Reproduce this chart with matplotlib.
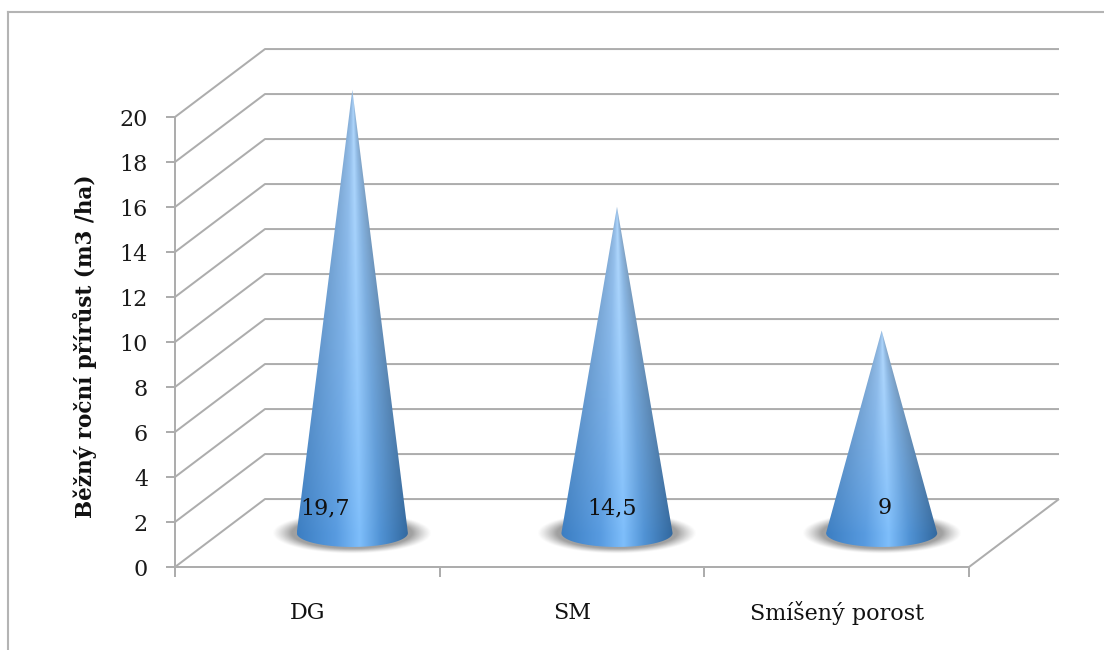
import numpy as np
import matplotlib
matplotlib.use("Agg")
import matplotlib.pyplot as plt
from matplotlib.patches import Polygon
from matplotlib.lines import Line2D

# Data
categories = ["DG", "SM", "Smíšený porost"]
values = [19.7, 14.5, 9]
value_labels = ["19,7", "14,5", "9"]
label_x = [0.567, 1.65, 2.68]
y_ticks = list(range(0, 21, 2))
y_title = "Běžný roční přírůst (m3 /ha)"

# Oblique projection of the depth axis, in data units
DEPTH_X = 0.34
DEPTH_Y = 3.02
CONE_HW = 0.21
CONE_RY = 0.62
GRID = "#adadad"
FONT = "DejaVu Serif"

plt.rcParams["font.family"] = [FONT]

W, H = 1104, 650
fig = plt.figure(figsize=(W / 100, H / 100), dpi=100, facecolor="white")
ax = fig.add_axes([175 / W, (H - 567) / H, 794 / W, 450 / H])
ax.set_axis_off()


def line(xs, ys, lw=2.0, z=1):
    ax.add_line(Line2D(xs, ys, color=GRID, lw=lw * 0.72, clip_on=False,
                       solid_capstyle="butt", zorder=z))


# Outer chart border: top and left sides
fig.add_artist(Line2D([8 / W, 8 / W], [0, 1 - 12 / H], color="#b4b4b4", lw=1.5))
fig.add_artist(Line2D([8 / W, 1], [1 - 12 / H, 1 - 12 / H], color="#b4b4b4", lw=1.5))

# Walls, floor and ticks
n_cat = len(categories)
line([0, 0], [0, y_ticks[-1]])
for v in y_ticks:
    line([0, DEPTH_X, n_cat + DEPTH_X], [v, v + DEPTH_Y, v + DEPTH_Y])
    line([-9 / 264.7, 0], [v, v])
    ax.text(-27 / 264.7, v - 0.15, str(v), ha="right", va="center",
            fontsize=16, color="#1a1a1a")
line([0, n_cat], [0, 0])
line([n_cat, n_cat + DEPTH_X], [0, DEPTH_Y])
for i in range(n_cat + 1):
    line([i, i], [0, -0.45])
for i, c in enumerate(categories):
    ax.text(i + 0.5, -2.03, c, ha="center", va="center", fontsize=16, color="#111111")

fig.text(85 / W, 1 - 346 / H, y_title, rotation=90, ha="center", va="center",
         fontsize=15.5, fontweight="bold", color="#111111")

# Colour stops across the cone, left edge to right edge
stops_u = np.array([-1.0, -0.3, 0.12, 0.5, 1.0])
stops_rgb = np.array([[0x3c, 0x7e, 0xc2], [0x58, 0x9b, 0xe0], [0x7e, 0xbe, 0xfb],
                      [0x50, 0x92, 0xd4], [0x32, 0x68, 0x9e]]) / 255.0

for i, (val, lab, lx) in enumerate(zip(values, value_labels, label_x)):
    xc = i + 0.5 + DEPTH_X / 2
    yc = DEPTH_Y / 2
    tip = yc + val

    # Soft floor shadow beneath the cone
    sx = np.linspace(xc - 0.34, xc + 0.34, 220)
    sy = np.linspace(yc - 1.1, yc + 1.1, 90)
    gx, gy = np.meshgrid(sx, sy)
    r = np.hypot((gx - xc) / 0.285, (gy - yc) / 0.86)
    alpha = np.clip((1.06 - r) / 0.26, 0, 1) ** 1.2 * 0.62
    shadow = np.zeros(gx.shape + (4,))
    shadow[..., :3] = 0.4
    shadow[..., 3] = alpha
    ax.imshow(shadow, extent=(sx[0], sx[-1], sy[0], sy[-1]), origin="lower",
              aspect="auto", zorder=3, clip_on=False, interpolation="bilinear")

    # Cone body: horizontal shading that follows the taper
    xs = np.linspace(xc - CONE_HW, xc + CONE_HW, 240)
    ys = np.linspace(yc - CONE_RY, tip, 600)
    mx, my = np.meshgrid(xs, ys)
    hw = CONE_HW * np.clip((tip - my) / val, 0.004, 1.0)
    u = np.clip((mx - xc) / hw, -1, 1)
    rgb = np.stack([np.interp(u, stops_u, stops_rgb[:, k]) for k in range(3)], axis=-1)
    t = np.clip((my - yc) / val, 0, 1)[..., None] ** 0.8
    rgb = rgb + (1 - rgb) * t * 0.42

    th = np.linspace(np.pi, 2 * np.pi, 60)
    outline = [(xc + CONE_HW * np.cos(a), yc + CONE_RY * np.sin(a)) for a in th]
    outline.append((xc, tip))
    clip = Polygon(outline, closed=True, transform=ax.transData)
    im = ax.imshow(rgb, extent=(xs[0], xs[-1], ys[0], ys[-1]), origin="lower",
                   aspect="auto", zorder=4, interpolation="bilinear")
    im.set_clip_box(fig.bbox)
    im.set_clip_path(clip)

    ax.text(lx, 2.62, lab, ha="center", va="center", fontsize=16,
            color="#111111", zorder=5)

ax.set_xlim(0, n_cat)
ax.set_ylim(0, y_ticks[-1])
fig.savefig("out.png", dpi=100, facecolor="white")
